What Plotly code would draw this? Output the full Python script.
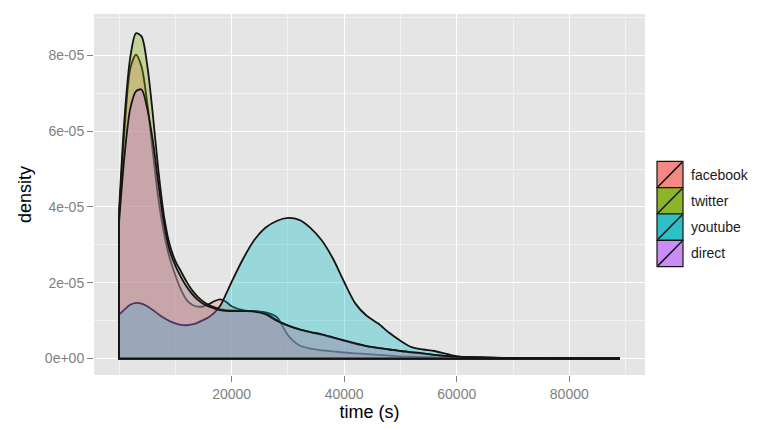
import plotly.graph_objects as go

# ---- data ----
time_s = [0, 1000, 2000, 3000, 4000, 5000, 6000, 7000, 8000, 9000, 10000,
          11000, 12000, 13000, 14000, 15000, 16000, 17000, 18000, 19000, 20000,
          22000, 24000, 26000, 28000, 30000, 32000, 34000, 36000, 38000, 40000,
          42000, 44000, 46000, 48000, 50000, 52000, 54000, 56000, 58000, 60000,
          64000, 68000, 72000, 76000, 80000, 84000, 89000]

facebook = [3.75, 6.1, 7.65, 8.02, 7.7, 6.75, 5.45, 4.2, 3.3, 2.65, 2.2,
            1.82, 1.55, 1.42, 1.37, 1.38, 1.44, 1.52, 1.56, 1.5, 1.38,
            1.28, 1.25, 1.22, 1.1, 0.62, 0.35, 0.26, 0.22, 0.19, 0.16,
            0.14, 0.12, 0.1, 0.08, 0.06, 0.05, 0.04, 0.03, 0.02, 0.02,
            0.01, 0.01, 0.005, 0.005, 0.005, 0.004, 0.003]

twitter = [3.89, 6.4, 7.95, 8.58, 8.5, 7.75, 6.45, 4.95, 3.75, 3.0, 2.58,
           2.3, 2.03, 1.8, 1.63, 1.5, 1.41, 1.35, 1.3, 1.28, 1.27,
           1.26, 1.25, 1.2, 1.02, 0.88, 0.78, 0.7, 0.63, 0.55, 0.47,
           0.39, 0.33, 0.28, 0.24, 0.2, 0.16, 0.13, 0.1, 0.07, 0.05,
           0.03, 0.02, 0.01, 0.01, 0.005, 0.005, 0.003]

youtube = [1.16, 1.3, 1.42, 1.47, 1.45, 1.38, 1.28, 1.17, 1.07, 0.99, 0.93,
           0.89, 0.88, 0.9, 0.95, 1.02, 1.1, 1.22, 1.4, 1.7, 2.02,
           2.62, 3.12, 3.45, 3.63, 3.71, 3.66, 3.45, 3.12, 2.64, 2.02,
           1.45, 1.13, 0.93, 0.68, 0.47, 0.3, 0.24, 0.2, 0.13, 0.06,
           0.03, 0.02, 0.015, 0.01, 0.01, 0.005, 0.003]

direct = [3.6, 5.4, 6.6, 7.05, 7.1, 6.6, 5.75, 4.6, 3.55, 2.85, 2.45,
          2.15, 1.9, 1.7, 1.55, 1.44, 1.37, 1.32, 1.28, 1.26, 1.25,
          1.25, 1.24, 1.17, 1.0, 0.87, 0.77, 0.7, 0.64, 0.56, 0.48,
          0.4, 0.33, 0.28, 0.24, 0.2, 0.17, 0.14, 0.1, 0.07, 0.05,
          0.03, 0.02, 0.01, 0.01, 0.005, 0.005, 0.003]

scale = 1e-5  # values above are in units of 1e-05

series_names = ["facebook", "twitter", "youtube", "direct"]
series_vals = [facebook, twitter, youtube, direct]
fill_colors = ["rgba(248,118,109,0.33)", "rgba(124,174,0,0.33)",
               "rgba(0,191,196,0.33)", "rgba(199,124,255,0.33)"]
key_colors = ["#F28A82", "#8DB52A", "#2EC0C6", "#C98DF5"]

x_ticks = [20000, 40000, 60000, 80000]
x_ticktext = ["20000", "40000", "60000", "80000"]
y_ticks = [0, 2e-5, 4e-5, 6e-5, 8e-5]
y_ticktext = ["0e+00", "2e-05", "4e-05", "6e-05", "8e-05"]

# ---- figure ----
W, H = 767, 430
ML, MR, MT, MB = 94, 122, 14, 51
LINE = "#141414"
FONT = "Liberation Sans, Arial, sans-serif"

fig = go.Figure()
for name, vals, fc in zip(series_names, series_vals, fill_colors):
    ys = [v * scale for v in vals]
    fig.add_trace(go.Scatter(
        x=time_s, y=ys, mode="lines", name=name,
        line=dict(color=LINE, width=1.8, shape="spline", smoothing=0.8),
        fill="tozeroy", fillcolor=fc, showlegend=False, hoverinfo="skip"))
    # left edge and baseline of the density polygon
    fig.add_trace(go.Scatter(
        x=[time_s[0], time_s[0], time_s[-1]], y=[ys[0], 0, 0],
        mode="lines", line=dict(color=LINE, width=1.8),
        showlegend=False, hoverinfo="skip"))

# ---- manual ggplot-style legend ----
pw = W - ML - MR
ph = H - MT - MB

def px(x):
    return (x - ML) / pw

def py(y):
    return (H - MB - y) / ph

key_x0, key_x1 = 657, 683
key_top, key_h = 163, 26.6
shapes = []
annotations = []
for i, (name, kc) in enumerate(zip(series_names, key_colors)):
    t = key_top + i * key_h
    b = t + key_h
    shapes.append(dict(type="rect", xref="paper", yref="paper",
                       x0=px(key_x0), x1=px(key_x1), y0=py(b), y1=py(t),
                       fillcolor=kc, line=dict(color=LINE, width=1.2)))
    shapes.append(dict(type="line", xref="paper", yref="paper",
                       x0=px(key_x0 + 1), x1=px(key_x1 - 1),
                       y0=py(b - 1), y1=py(t + 1),
                       line=dict(color=LINE, width=1.5)))
    annotations.append(dict(xref="paper", yref="paper", x=px(key_x1 + 6),
                            y=py(t + key_h / 2), text=name, showarrow=False,
                            xanchor="left", yanchor="middle",
                            font=dict(family=FONT, size=14, color="#1a1a1a")))

fig.update_layout(
    width=W, height=H,
    margin=dict(l=ML, r=MR, t=MT, b=MB, pad=0),
    paper_bgcolor="white", plot_bgcolor="#E5E5E5",
    font=dict(family=FONT),
    shapes=shapes, annotations=annotations,
    showlegend=False,
)
fig.update_xaxes(
    range=[-4450, 93450], tickvals=x_ticks, ticktext=x_ticktext,
    ticks="outside", ticklen=6, tickwidth=1, tickcolor="#7F7F7F",
    tickfont=dict(family=FONT, size=14, color="#7F7F7F"),
    showgrid=True, gridcolor="white", gridwidth=1.4, zeroline=False,
    showline=False,
    minor=dict(dtick=10000, tick0=0, showgrid=True, gridcolor="#F2F2F2",
               gridwidth=0.6, ticks=""),
    title=dict(text="time (s)", font=dict(family=FONT, size=18, color="black"),
               standoff=4),
)
fig.update_yaxes(
    range=[-4.33e-6, 9.09e-5], tickvals=y_ticks, ticktext=y_ticktext,
    ticks="outside", ticklen=6, tickwidth=1, tickcolor="#7F7F7F",
    tickfont=dict(family=FONT, size=14, color="#7F7F7F"),
    showgrid=True, gridcolor="white", gridwidth=1.4, zeroline=False,
    showline=False,
    minor=dict(dtick=1e-5, tick0=0, showgrid=True, gridcolor="#F2F2F2",
               gridwidth=0.6, ticks=""),
    title=dict(text="density", font=dict(family=FONT, size=18, color="black"),
               standoff=8),
)

fig.write_html("out.html")
